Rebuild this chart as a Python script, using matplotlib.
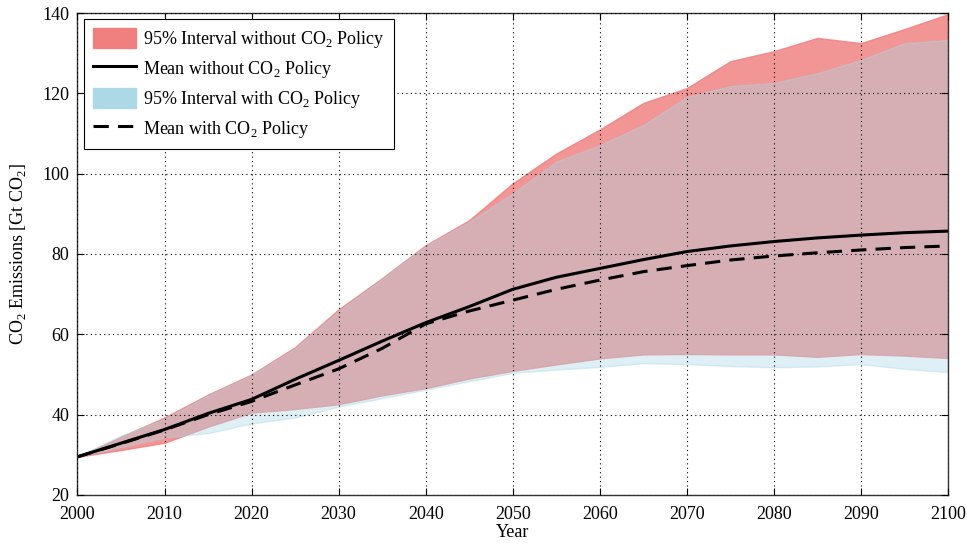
import numpy as np
import matplotlib
matplotlib.use("Agg")
from matplotlib import pyplot as plt
from matplotlib.patches import Patch
from matplotlib.lines import Line2D

plt.rcParams['font.family'] = ['Liberation Serif', 'DejaVu Serif']
plt.rcParams['font.size'] = 13

# emission scenarios, sampled every 5 years
years = np.arange(2000, 2101, 5)
hi_without = [29.5, 34.5, 39.3, 45.0, 50.0, 56.8, 66.2, 74.0, 82.2, 88.4, 97.6,
              105.0, 111.0, 117.6, 121.3, 128.0, 130.5, 133.8, 132.5, 136.0, 139.7]
lo_without = [29.5, 31.2, 33.0, 37.0, 40.5, 41.4, 42.6, 44.8, 46.6, 49.0, 50.9,
              52.5, 54.0, 55.0, 55.1, 55.0, 55.0, 54.4, 55.1, 54.7, 54.1]
hi_with = [29.5, 34.8, 38.9, 44.8, 49.8, 56.5, 65.8, 73.8, 82.0, 88.0, 95.1,
           103.0, 107.1, 112.1, 119.1, 121.8, 122.6, 125.0, 128.3, 132.5, 133.3]
lo_with = [29.5, 32.0, 34.3, 35.4, 37.8, 39.3, 42.0, 44.1, 46.2, 48.3, 50.4,
           51.2, 51.9, 52.8, 52.6, 52.1, 51.8, 52.0, 52.6, 51.4, 50.6]
mean_without = [29.5, 32.9, 36.3, 40.3, 43.8, 48.8, 53.5, 58.3, 62.9, 66.9, 71.2,
                74.2, 76.4, 78.6, 80.6, 82.0, 83.1, 84.0, 84.7, 85.3, 85.7]
mean_with = [29.5, 32.8, 36.2, 40.0, 43.3, 47.4, 51.4, 56.5, 62.6, 65.8, 68.5,
             71.2, 73.5, 75.6, 77.1, 78.5, 79.5, 80.3, 81.0, 81.6, 82.0]

red = '#F08080'
blue = '#ADD8E6'
co2 = r'CO$_\mathregular{2}$'
dash = (5, 3)

fig = plt.figure(figsize=(9.67, 5.44), dpi=100)
ax = fig.add_axes([0.0801, 0.0901, 0.9002, 0.886])

ax.fill_between(years, lo_without, hi_without, facecolor=red, edgecolor=red,
                alpha=0.83, linewidth=1)
ax.fill_between(years, lo_with, hi_with, facecolor=blue, edgecolor=blue,
                alpha=0.4, linewidth=1)
ax.plot(years, mean_without, color='black', linewidth=2.2)
ax.plot(years, mean_with, color='black', linewidth=2.2, dashes=dash)

ax.set_xlim(2000, 2100)
ax.set_ylim(20, 140)
ax.set_xticks(np.arange(2000, 2101, 10))
ax.set_yticks(np.arange(20, 141, 20))
ax.tick_params(direction='in', length=5, top=True, right=True, width=0.8)
ax.tick_params(axis='x', pad=8)
ax.tick_params(axis='y', pad=6)
ax.grid(True, linestyle=(0, (1, 3)), color='black', linewidth=0.8)
ax.set_axisbelow(False)
for s in ax.spines.values():
    s.set_color('#333333')
    s.set_linewidth(1)

ax.set_xlabel('Year', labelpad=1)
ax.set_ylabel(co2 + ' Emissions [Gt ' + co2 + ']', labelpad=10)

handles = [Patch(facecolor=red, edgecolor=red),
           Line2D([], [], color='black', linewidth=2.2),
           Patch(facecolor=blue, edgecolor=blue),
           Line2D([], [], color='black', linewidth=2.2, dashes=dash)]
labels = ['95% Interval without ' + co2 + ' Policy',
          'Mean without ' + co2 + ' Policy',
          '95% Interval with ' + co2 + ' Policy',
          'Mean with ' + co2 + ' Policy']
leg = ax.legend(handles, labels, loc='upper left', fancybox=False,
                edgecolor='black', framealpha=1, handlelength=2.4,
                handleheight=1.3, labelspacing=0.45, borderaxespad=0.35,
                handletextpad=0.4, borderpad=0.5)
leg.get_frame().set_linewidth(0.8)

fig.savefig('out.png', dpi=100)
